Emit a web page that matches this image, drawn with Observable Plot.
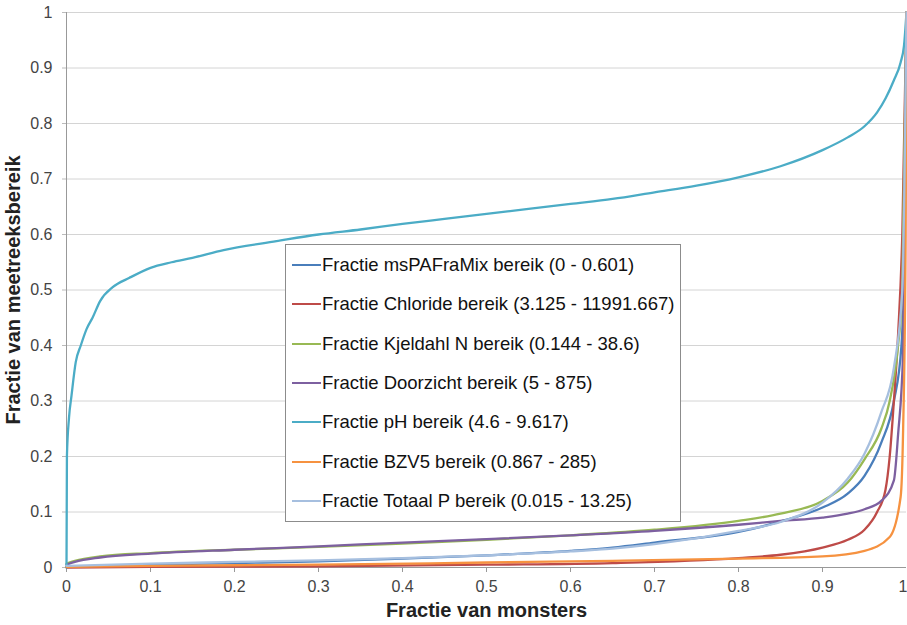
<!DOCTYPE html>
<html><head><meta charset="utf-8">
<script src="https://cdn.jsdelivr.net/npm/d3@7"></script>
<script src="https://cdn.jsdelivr.net/npm/@observablehq/plot@0.6"></script>
<style>
body{margin:0;background:#fff;font-family:"Liberation Sans",Arial,sans-serif}
#wrap{position:relative;width:907px;height:625px}
#wrap svg g[aria-label$="tick label"], #wrap svg g[aria-label$="tick label"] text{font-size:16px !important}
#legend{position:absolute;left:285px;top:244px;width:396px;height:278px;border:1px solid #8c8c8c;background:#fff;box-sizing:border-box}
.row{position:absolute;left:6px;height:20px;line-height:20px;font-size:18.5px;color:#111;white-space:nowrap}
.sw{display:inline-block;width:29px;height:2px;vertical-align:middle;margin-right:1px;position:relative;top:-1px}
</style></head><body><div id="wrap"></div>
<script>
const names = [
  "Fractie msPAFraMix bereik (0 - 0.601)",
  "Fractie Chloride bereik (3.125 - 11991.667)",
  "Fractie Kjeldahl N bereik (0.144 - 38.6)",
  "Fractie Doorzicht bereik (5 - 875)",
  "Fractie pH bereik (4.6 - 9.617)",
  "Fractie BZV5 bereik (0.867 - 285)",
  "Fractie Totaal P bereik (0.015 - 13.25)"
];
const colors = ["#4a7ebb","#be4b48","#98b954","#7d60a0","#4bacc6","#f69240","#a6bfdf"];

const msPAF = [[0,0.001],[0.1,0.005],[0.2,0.008],[0.3,0.011],[0.4,0.016],[0.5,0.022],[0.6,0.03],[0.65,0.036],[0.7,0.045],[0.8,0.064],[0.85,0.083],[0.9,0.108],[0.93,0.133],[0.95,0.165],[0.97,0.225],[0.985,0.3],[0.994,0.4],[0.998,0.6],[1,1]];
const chloride = [[0,0],[0.1,0.001],[0.3,0.002],[0.5,0.005],[0.65,0.008],[0.8,0.017],[0.85,0.023],[0.9,0.036],[0.93,0.05],[0.95,0.068],[0.965,0.1],[0.975,0.14],[0.98,0.2],[0.985,0.3],[0.99,0.42],[0.995,0.6],[1,1]];
const kjeldahl = [[0,0.007],[0.01,0.012],[0.04,0.02],[0.1,0.026],[0.2,0.032],[0.3,0.037],[0.4,0.043],[0.5,0.05],[0.6,0.058],[0.7,0.068],[0.8,0.084],[0.85,0.097],[0.9,0.12],[0.93,0.153],[0.95,0.195],[0.97,0.25],[0.98,0.3],[0.99,0.4],[0.995,0.5],[1,1]];
const doorzicht = [[0,0.005],[0.01,0.01],[0.04,0.018],[0.1,0.025],[0.2,0.032],[0.3,0.038],[0.4,0.045],[0.5,0.051],[0.6,0.058],[0.7,0.066],[0.8,0.077],[0.85,0.084],[0.9,0.09],[0.93,0.097],[0.95,0.105],[0.97,0.12],[0.985,0.157],[0.99,0.24],[0.996,0.39],[1,1]];
const pH = [[0,0],[0.0005,0.2],[0.003,0.27],[0.006,0.31],[0.011,0.37],[0.017,0.4],[0.024,0.43],[0.031,0.45],[0.04,0.48],[0.055,0.505],[0.075,0.522],[0.1,0.54],[0.125,0.55],[0.15,0.558],[0.187,0.572],[0.25,0.588],[0.3,0.6],[0.35,0.609],[0.4,0.619],[0.45,0.628],[0.5,0.637],[0.55,0.646],[0.6,0.655],[0.65,0.664],[0.7,0.676],[0.75,0.688],[0.8,0.703],[0.85,0.723],[0.9,0.752],[0.93,0.775],[0.95,0.795],[0.965,0.82],[0.975,0.845],[0.985,0.878],[0.993,0.91],[0.997,0.94],[1,1]];
const bzv5 = [[0,0.001],[0.1,0.003],[0.3,0.005],[0.5,0.009],[0.65,0.012],[0.8,0.016],[0.9,0.02],[0.95,0.03],[0.98,0.055],[0.993,0.127],[0.996,0.25],[0.999,0.6],[1,1]];
const totaalP = [[0,0.003],[0.1,0.007],[0.2,0.01],[0.3,0.013],[0.4,0.017],[0.5,0.022],[0.6,0.029],[0.65,0.034],[0.7,0.042],[0.8,0.066],[0.85,0.082],[0.9,0.117],[0.93,0.16],[0.95,0.205],[0.97,0.28],[0.985,0.36],[0.995,0.5],[1,1]];

const seriesData = [msPAF, chloride, kjeldahl, doorzicht, pH, bzv5, totaalP];
const xTicks = d3.range(0, 10).map(i => i / 10);
const xLastTick = [1];
const yTicks = d3.range(0, 11).map(i => i / 10);
const fmt = d => String(+d.toFixed(1));
const xTitle = "Fractie van monsters";
const yTitle = "Fractie van meetreeksbereik";

const lines = seriesData.map((pts, i) => Plot.line(pts, {x: d => d[0], y: d => d[1], stroke: colors[i], strokeWidth: 2.3, curve: "monotone-x"}));

const chart = Plot.plot({
  width: 907, height: 625,
  marginLeft: 66, marginRight: 1, marginTop: 12, marginBottom: 58,
  style: {fontFamily: '"Liberation Sans", Arial, sans-serif', fontSize: "16px", background: "#fff"},
  x: {domain: [0, 1]},
  y: {domain: [0, 1]},
  marks: [
    Plot.gridY(yTicks, {stroke: "#d4d4d4", strokeOpacity: 1}),
    Plot.axisY({ticks: yTicks, tickFormat: fmt, tickSize: 4, tickPadding: 10, fontSize: 16, color: "#444", stroke: "#bbb", label: null}),
    Plot.axisX({ticks: xTicks, tickFormat: fmt, tickSize: 5, tickPadding: 8, fontSize: 16, color: "#444", stroke: "#999", label: null}),
    Plot.axisX({ticks: xLastTick, tickFormat: fmt, tickSize: 5, tickPadding: 8, fontSize: 16, color: "#444", stroke: "#999", label: null, textAnchor: "end", dx: 1}),
    Plot.ruleX([0], {stroke: "#999"}),
    Plot.ruleY([0], {stroke: "#999"}),
    ...lines,
    Plot.text([yTitle], {text: d => d, frameAnchor: "left", dx: -53, rotate: -90, fontSize: 20, fontWeight: "bold", fill: "#222", lineAnchor: "middle", textAnchor: "middle"}),
    Plot.text([xTitle], {text: d => d, frameAnchor: "bottom", dy: 43, fontSize: 20, fontWeight: "bold", fill: "#222", lineAnchor: "middle", textAnchor: "middle"})
  ]
});
const wrap = document.getElementById("wrap");
wrap.appendChild(chart);

const legend = document.createElement("div");
legend.id = "legend";
names.forEach((n, i) => {
  const row = document.createElement("div");
  row.className = "row";
  row.style.top = (10 + i * 39.3) + "px";
  const sw = document.createElement("span");
  sw.className = "sw";
  sw.style.background = colors[i];
  row.appendChild(sw);
  row.appendChild(document.createTextNode(n));
  legend.appendChild(row);
});
wrap.appendChild(legend);
</script></body></html>
